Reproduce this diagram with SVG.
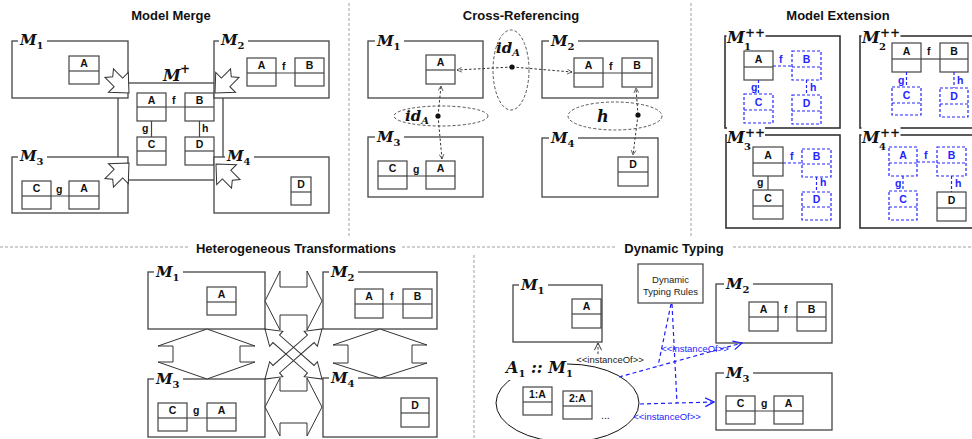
<svg xmlns="http://www.w3.org/2000/svg" width="972" height="439" viewBox="0 0 972 439">
<defs>
<style>
.ti{font-family:"Liberation Sans",Arial,sans-serif;font-weight:bold;font-size:13px;text-anchor:middle;fill:#111}
.sep{stroke:#a0a0a0;stroke-width:1;stroke-dasharray:3 2;fill:none}
.fr{fill:#fff;stroke:#444;stroke-width:1.3}
.fx{fill:none;stroke:#333;stroke-width:1.6}
.ml{font-family:"DejaVu Serif",serif;font-weight:bold;font-style:italic;font-size:15px;fill:#111}
.sb{font-size:10px;font-style:normal}
.sbi{font-size:10px}
.bg{fill:#fff}
.c rect{fill:#fff;stroke:#444;stroke-width:1.2}
.c line{stroke:#444;stroke-width:1.2}
.c text{font-family:"Liberation Sans",Arial,sans-serif;font-weight:bold;font-size:10.5px;text-anchor:middle;fill:#111}
.b rect{stroke:#2424ff;stroke-dasharray:3 2}
.b line{stroke:#2424ff;stroke-dasharray:3 2}
.b text{fill:#2424ff}
.lb{font-family:"Liberation Sans",Arial,sans-serif;font-weight:bold;font-size:10.5px;fill:#111}
.lbb{fill:#2424ff}
.ln{stroke:#444;stroke-width:1.2;fill:none}
.lnb{stroke:#2424ff;stroke-width:1.2;stroke-dasharray:3 2;fill:none}
.blk{fill:#fff;stroke:#333;stroke-width:1}
.blkn{fill:none;stroke:#333;stroke-width:1}
.dot{stroke:#333;stroke-width:1;stroke-dasharray:2.5 2;fill:none}
.ell{stroke:#555;stroke-width:1;stroke-dasharray:3 2;fill:none}
.dt{stroke:#1e1eff;stroke-width:1.2;stroke-dasharray:4 3;fill:none}
.sm{font-family:"Liberation Sans",Arial,sans-serif;font-size:9.5px;fill:#222}
.smb{fill:#2424ff}
.pp{font-family:"DejaVu Serif",serif;font-weight:bold;font-size:12px;fill:#111}
</style>
<marker id="ak" viewBox="0 0 10 10" refX="9" refY="5" markerWidth="6" markerHeight="6" orient="auto" markerUnits="userSpaceOnUse"><path d="M1,1 L9,5 L1,9" fill="none" stroke="#333" stroke-width="1.2"/></marker>
<marker id="ab" viewBox="0 0 10 10" refX="9" refY="5" markerWidth="11" markerHeight="11" orient="auto" markerUnits="userSpaceOnUse"><path d="M1,1 L9,5 L1,9" fill="none" stroke="#1e1eff" stroke-width="1.1"/></marker>
<marker id="ak2" viewBox="0 0 10 10" refX="9" refY="5" markerWidth="9" markerHeight="9" orient="auto" markerUnits="userSpaceOnUse"><path d="M1,1 L9,5 L1,9" fill="none" stroke="#333" stroke-width="1.1"/></marker>
<path id="notch" d="M0,0 L-15,-14 L-15,-6 L-28,-6 L-23,0 L-28,6 L-15,6 L-15,14 Z"/>
</defs>
<rect width="972" height="439" fill="#fff"/>

<g id="separators">
<path class="sep" d="M0,247 H188 M402,247 H617 M733,247 H972 M474,255 V439 M349,3 V238 M691,3 V238"/>
</g>

<g id="titles">
<text class="ti" x="171" y="20">Model Merge</text>
<text class="ti" x="521" y="20">Cross-Referencing</text>
<text class="ti" x="838" y="20">Model Extension</text>
<text class="ti" x="296" y="253">Heterogeneous Transformations</text>
<text class="ti" x="674" y="253">Dynamic Typing</text>
</g>

<!-- ================= MODEL MERGE ================= -->
<g id="mm-mplus">
<rect class="fr" x="118" y="83" width="105" height="97"/>
<text class="ml" x="163" y="81" style="font-size:16px">M</text><text class="pp" x="180" y="73">+</text>
<g class="c"><rect x="137" y="93" width="29" height="28"/><line x1="137" y1="107" x2="166" y2="107"/><text x="151.5" y="104">A</text></g>
<g class="c"><rect x="185" y="93" width="29" height="28"/><line x1="185" y1="107" x2="214" y2="107"/><text x="199.5" y="104">B</text></g>
<g class="c"><rect x="137" y="137" width="29" height="28"/><line x1="137" y1="151" x2="166" y2="151"/><text x="151.5" y="148">C</text></g>
<g class="c"><rect x="185" y="137" width="29" height="28"/><line x1="185" y1="151" x2="214" y2="151"/><text x="199.5" y="148">D</text></g>
</g>
<g id="mm-m1">
<rect class="fr" x="12" y="41" width="116" height="57"/>
<rect class="bg" x="18" y="30" width="29" height="20"/>
<text class="ml" x="20" y="45">M<tspan class="sb" dy="4">1</tspan></text>
<g class="c"><rect x="69" y="56" width="30" height="28"/><line x1="69" y1="71" x2="99" y2="71"/><text x="84" y="67">A</text></g>
</g>
<g id="mm-m2">
<rect class="fr" x="214" y="41" width="115" height="57"/>
<rect class="bg" x="219" y="30" width="29" height="20"/>
<text class="ml" x="221" y="45">M<tspan class="sb" dy="4">2</tspan></text>
<g class="c"><rect x="247" y="58" width="29" height="28"/><line x1="247" y1="73" x2="276" y2="73"/><text x="261.5" y="69">A</text></g>
<g class="c"><rect x="295" y="58" width="29" height="28"/><line x1="295" y1="73" x2="324" y2="73"/><text x="309.5" y="69">B</text></g>
</g>
<g id="mm-m3">
<rect class="fr" x="12" y="157" width="116" height="56"/>
<rect class="bg" x="18" y="146" width="29" height="20"/>
<text class="ml" x="20" y="161">M<tspan class="sb" dy="4">3</tspan></text>
<g class="c"><rect x="22" y="181" width="29" height="28"/><line x1="22" y1="196" x2="51" y2="196"/><text x="36.5" y="192">C</text></g>
<g class="c"><rect x="69" y="181" width="30" height="28"/><line x1="69" y1="196" x2="99" y2="196"/><text x="84" y="192">A</text></g>
</g>
<g id="mm-m4">
<rect class="fr" x="214" y="157" width="115" height="56"/>
<rect class="bg" x="225" y="146" width="29" height="20"/>
<text class="ml" x="227" y="161">M<tspan class="sb" dy="4">4</tspan></text>
<g class="c"><rect x="291" y="177" width="20" height="28"/><line x1="291" y1="192" x2="311" y2="192"/><text x="301" y="188">D</text></g>
</g>

<!-- ================= CROSS-REFERENCING ================= -->
<g id="cr-m1">
<rect class="fr" x="368" y="41" width="115" height="57"/>
<rect class="bg" x="375" y="30" width="29" height="20"/>
<text class="ml" x="377" y="46">M<tspan class="sb" dy="4">1</tspan></text>
<g class="c"><rect x="426" y="55" width="29" height="29"/><line x1="426" y1="70" x2="455" y2="70"/><text x="440.5" y="66">A</text></g>
</g>
<g id="cr-m2">
<rect class="fr" x="542" y="41" width="116" height="57"/>
<rect class="bg" x="549" y="30" width="29" height="20"/>
<text class="ml" x="551" y="46">M<tspan class="sb" dy="4">2</tspan></text>
<g class="c"><rect x="574" y="58" width="29" height="29"/><line x1="574" y1="73" x2="603" y2="73"/><text x="588.5" y="69">A</text></g>
<g class="c"><rect x="622" y="58" width="30" height="29"/><line x1="622" y1="73" x2="652" y2="73"/><text x="637" y="69">B</text></g>
</g>
<g id="cr-m3">
<rect class="fr" x="368" y="137" width="115" height="60"/>
<rect class="bg" x="375" y="126" width="29" height="20"/>
<text class="ml" x="377" y="142">M<tspan class="sb" dy="4">3</tspan></text>
<g class="c"><rect x="378" y="161" width="29" height="28"/><line x1="378" y1="176" x2="407" y2="176"/><text x="392.5" y="172">C</text></g>
<g class="c"><rect x="426" y="161" width="29" height="28"/><line x1="426" y1="176" x2="455" y2="176"/><text x="440.5" y="172">A</text></g>
</g>
<g id="cr-m4">
<rect class="fr" x="542" y="138" width="116" height="59"/>
<rect class="bg" x="549" y="127" width="29" height="20"/>
<text class="ml" x="551" y="143">M<tspan class="sb" dy="4">4</tspan></text>
<g class="c"><rect x="618" y="157" width="30" height="29"/><line x1="618" y1="172" x2="648" y2="172"/><text x="633" y="168">D</text></g>
</g>

<!-- ================= MODEL EXTENSION ================= -->
<g id="me-m1">
<rect class="fx" x="725" y="36" width="115" height="92"/>
<rect class="bg" x="726.5" y="25" width="39" height="26"/>
<text class="ml" x="727" y="43" style="font-size:16px">M</text><text class="ml sb" x="744" y="50">1</text><text class="pp" x="745" y="37">++</text>
<g class="c"><rect x="744" y="51" width="29" height="29"/><line x1="744" y1="67" x2="773" y2="67"/><text x="758.5" y="63">A</text></g>
<g class="c b"><rect x="792" y="51" width="29" height="29"/><line x1="792" y1="67" x2="821" y2="67"/><text x="806.5" y="63">B</text></g>
<g class="c b"><rect x="744" y="94" width="29" height="29"/><line x1="744" y1="110" x2="773" y2="110"/><text x="758.5" y="106">C</text></g>
<g class="c b"><rect x="792" y="95" width="29" height="29"/><line x1="792" y1="111" x2="821" y2="111"/><text x="806.5" y="107">D</text></g>
</g>
<g id="me-m2">
<rect class="fx" x="860" y="36" width="125" height="92"/>
<rect class="bg" x="861.5" y="25" width="39" height="26"/>
<text class="ml" x="862" y="43" style="font-size:16px">M</text><text class="ml sb" x="879" y="50">2</text><text class="pp" x="880" y="37">++</text>
<g class="c"><rect x="892" y="43" width="29" height="29"/><line x1="892" y1="59" x2="921" y2="59"/><text x="906.5" y="55">A</text></g>
<g class="c"><rect x="940" y="43" width="28" height="29"/><line x1="940" y1="59" x2="968" y2="59"/><text x="954" y="55">B</text></g>
<g class="c b"><rect x="892" y="87" width="29" height="28"/><line x1="892" y1="103" x2="921" y2="103"/><text x="906.5" y="99">C</text></g>
<g class="c b"><rect x="940" y="88" width="28" height="29"/><line x1="940" y1="104" x2="968" y2="104"/><text x="954" y="100">D</text></g>
</g>
<g id="me-m3">
<rect class="fx" x="726" y="135" width="114" height="93"/>
<rect class="bg" x="727" y="124" width="38" height="26"/>
<text class="ml" x="727" y="143" style="font-size:16px">M</text><text class="ml sb" x="744" y="150">3</text><text class="pp" x="745" y="137">++</text>
<g class="c"><rect x="753" y="147" width="30" height="29"/><line x1="753" y1="163" x2="783" y2="163"/><text x="768" y="159">A</text></g>
<g class="c b"><rect x="802" y="149" width="29" height="28"/><line x1="802" y1="164" x2="831" y2="164"/><text x="816.5" y="160">B</text></g>
<g class="c"><rect x="753" y="190" width="30" height="29"/><line x1="753" y1="206" x2="783" y2="206"/><text x="768" y="202">C</text></g>
<g class="c b"><rect x="802" y="192" width="29" height="28"/><line x1="802" y1="207" x2="831" y2="207"/><text x="816.5" y="203">D</text></g>
</g>
<g id="me-m4">
<rect class="fx" x="860" y="135" width="125" height="93"/>
<rect class="bg" x="861.5" y="124" width="39" height="26"/>
<text class="ml" x="862" y="143" style="font-size:16px">M</text><text class="ml sb" x="879" y="150">4</text><text class="pp" x="880" y="137">++</text>
<g class="c b"><rect x="889" y="147" width="28" height="29"/><line x1="889" y1="163" x2="917" y2="163"/><text x="903" y="159">A</text></g>
<g class="c b"><rect x="937" y="147" width="29" height="29"/><line x1="937" y1="163" x2="966" y2="163"/><text x="951.5" y="159">B</text></g>
<g class="c b"><rect x="889" y="191" width="28" height="29"/><line x1="889" y1="207" x2="917" y2="207"/><text x="903" y="203">C</text></g>
<g class="c"><rect x="937" y="192" width="29" height="29"/><line x1="937" y1="208" x2="966" y2="208"/><text x="951.5" y="204">D</text></g>
</g>

<!-- ================= HETEROGENEOUS ================= -->
<g id="ht-m1">
<rect class="fr" x="148" y="272" width="117" height="57"/>
<rect class="bg" x="154" y="261" width="29" height="20"/>
<text class="ml" x="156" y="277">M<tspan class="sb" dy="4">1</tspan></text>
<g class="c"><rect x="207" y="287" width="29" height="28"/><line x1="207" y1="302" x2="236" y2="302"/><text x="221.5" y="298">A</text></g>
</g>
<g id="ht-m2">
<rect class="fr" x="323" y="272" width="114" height="57"/>
<rect class="bg" x="329" y="261" width="29" height="20"/>
<text class="ml" x="331" y="277">M<tspan class="sb" dy="4">2</tspan></text>
<g class="c"><rect x="355" y="289" width="28" height="29"/><line x1="355" y1="304" x2="383" y2="304"/><text x="369" y="300">A</text></g>
<g class="c"><rect x="403" y="289" width="29" height="29"/><line x1="403" y1="304" x2="432" y2="304"/><text x="417.5" y="300">B</text></g>
</g>
<g id="ht-m3">
<rect class="fr" x="148" y="379" width="117" height="58"/>
<rect class="bg" x="154" y="368" width="29" height="20"/>
<text class="ml" x="156" y="384">M<tspan class="sb" dy="4">3</tspan></text>
<g class="c"><rect x="158" y="403" width="29" height="28"/><line x1="158" y1="418" x2="187" y2="418"/><text x="172.5" y="414">C</text></g>
<g class="c"><rect x="207" y="403" width="29" height="28"/><line x1="207" y1="418" x2="236" y2="418"/><text x="221.5" y="414">A</text></g>
</g>
<g id="ht-m4">
<rect class="fr" x="323" y="378" width="114" height="59"/>
<rect class="bg" x="329" y="367" width="29" height="20"/>
<text class="ml" x="331" y="383">M<tspan class="sb" dy="4">4</tspan></text>
<g class="c"><rect x="401" y="398" width="28" height="29"/><line x1="401" y1="413" x2="429" y2="413"/><text x="415" y="409">D</text></g>
</g>

<!-- ================= DYNAMIC TYPING ================= -->
<g id="dt-m1">
<rect class="fr" x="513" y="285" width="89" height="57"/>
<rect class="bg" x="519" y="274" width="29" height="20"/>
<text class="ml" x="521" y="290">M<tspan class="sb" dy="4">1</tspan></text>
<g class="c"><rect x="572" y="299" width="29" height="29"/><line x1="572" y1="314" x2="601" y2="314"/><text x="586.5" y="310">A</text></g>
</g>
<g id="dt-rules">
<rect x="638" y="264" width="65" height="39" fill="#fff" stroke="#444" stroke-width="1.2"/>
<text class="sm" x="670.5" y="283" text-anchor="middle">Dynamic</text>
<text class="sm" x="670.5" y="295" text-anchor="middle">Typing Rules</text>
</g>
<g id="dt-m2">
<rect class="fr" x="716" y="284" width="116" height="59"/>
<rect class="bg" x="724" y="273" width="29" height="20"/>
<text class="ml" x="726" y="289">M<tspan class="sb" dy="4">2</tspan></text>
<g class="c"><rect x="749" y="302" width="29" height="29"/><line x1="749" y1="317" x2="778" y2="317"/><text x="763.5" y="313">A</text></g>
<g class="c"><rect x="797" y="302" width="29" height="29"/><line x1="797" y1="317" x2="826" y2="317"/><text x="811.5" y="313">B</text></g>
</g>
<g id="dt-m3">
<rect class="fr" x="716" y="373" width="116" height="57"/>
<rect class="bg" x="724" y="362" width="29" height="20"/>
<text class="ml" x="726" y="378">M<tspan class="sb" dy="4">3</tspan></text>
<g class="c"><rect x="726" y="396" width="29" height="28"/><line x1="726" y1="411" x2="755" y2="411"/><text x="740.5" y="407">C</text></g>
<g class="c"><rect x="774" y="396" width="29" height="28"/><line x1="774" y1="411" x2="803" y2="411"/><text x="788.5" y="407">A</text></g>
</g>
<g id="dt-a1">
<ellipse cx="567.5" cy="403" rx="71.5" ry="39" fill="none" stroke="#111" stroke-width="1"/>
<rect class="bg" x="502" y="356" width="65" height="24"/>
<text class="ml" x="506" y="373" style="font-size:16px">A<tspan class="sb" dy="4">1</tspan><tspan dy="-4"> :: M</tspan><tspan class="sb" dy="4">1</tspan></text>
<g class="c"><rect x="523" y="387" width="29" height="28"/><line x1="523" y1="402" x2="552" y2="402"/><text x="537.5" y="398">1:A</text></g>
<g class="c"><rect x="563" y="391" width="29" height="28"/><line x1="563" y1="406" x2="592" y2="406"/><text x="577.5" y="402">2:A</text></g>
<text class="lb" x="601" y="419" style="font-weight:normal">...</text>
</g>

<!-- ================= CONNECTORS ================= -->
<g id="connectors">
<path class="ln" d="M166,107 H185 M151.5,121 V137 M199.5,121 V137 M276,73 H295 M51,196 H69"/>
<text class="lb" x="172" y="104">f</text><text class="lb" x="142" y="132">g</text><text class="lb" x="202" y="132">h</text>
<text class="lb" x="282" y="70">f</text><text class="lb" x="56" y="193">g</text>
<use href="#notch" class="blk" transform="translate(129,93) rotate(45)"/>
<use href="#notch" class="blk" transform="translate(215,93) rotate(135)"/>
<use href="#notch" class="blk" transform="translate(129,163) rotate(-45)"/>
<use href="#notch" class="blk" transform="translate(216,164) rotate(-135)"/>

<path class="ln" d="M603,73 H622 M407,176 H426"/>
<text class="lb" x="609" y="70">f</text><text class="lb" x="413" y="173">g</text>
<ellipse class="ell" cx="441" cy="116" rx="47" ry="10"/>
<ellipse class="ell" cx="511" cy="70" rx="18" ry="40"/>
<ellipse class="ell" cx="615" cy="116" rx="47" ry="14"/>
<path class="dot" d="M438,116 L441,86" marker-end="url(#ak)"/>
<path class="dot" d="M438,116 L442,159" marker-end="url(#ak)"/>
<path class="dot" d="M512,67 L457,70" marker-end="url(#ak)"/>
<path class="dot" d="M512,67 L572,72" marker-end="url(#ak)"/>
<path class="dot" d="M638,115 L636,88" marker-end="url(#ak)"/>
<path class="dot" d="M638,115 L633,155" marker-end="url(#ak)"/>
<circle cx="438" cy="116" r="2.6" fill="#111"/>
<circle cx="512" cy="67" r="2.6" fill="#111"/>
<circle cx="638" cy="115" r="2.6" fill="#111"/>
<text class="ml" x="405" y="121">id<tspan class="sbi" dy="3">A</tspan></text>
<text class="ml" x="496" y="53">id<tspan class="sbi" dy="3">A</tspan></text>
<text class="ml" x="597" y="122" style="font-size:16px">h</text>

<path class="lnb" d="M773,66 H792 M758.5,80 V94 M806.5,80 V95"/>
<text class="lb lbb" x="779" y="63">f</text><text class="lb lbb" x="751" y="91">g</text><text class="lb lbb" x="810" y="91">h</text>
<path class="lnb" d="M783,163 H802 M816.5,177 V192"/>
<path class="ln" d="M768,176 V190"/>
<text class="lb lbb" x="790" y="160">f</text><text class="lb" x="757" y="186">g</text><text class="lb lbb" x="820" y="186">h</text>
<path class="ln" d="M921,59 H940"/>
<path class="lnb" d="M906.5,72 V87 M954,72 V88"/>
<text class="lb" x="927" y="55">f</text><text class="lb lbb" x="898" y="84">g</text><text class="lb lbb" x="957" y="84">h</text>
<path class="lnb" d="M917,162 H937 M903,176 V191 M951.5,176 V192"/>
<text class="lb lbb" x="924" y="159">f</text><text class="lb lbb" x="895" y="187">g</text><text class="lb lbb" x="955" y="187">h</text>

<path class="ln" d="M383,304 H403 M187,418 H207"/>
<text class="lb" x="390" y="300">f</text><text class="lb" x="193" y="414">g</text>
<path class="blk" d="M207,329 L158,346 L173,346 L173,362 L158,362 L207,379 L255,362 L240,362 L240,346 L255,346 Z"/>
<path class="blk" d="M380,329 L333,345 L348,345 L348,363 L333,363 L380,378 L427,363 L412,363 L412,345 L427,345 Z"/>
<path class="blk" d="M265,301 L280,271 L280,287 L307,287 L307,271 L322,301 L307,330 L307,315 L280,315 L280,330 Z"/>
<path class="blk" d="M265,407 L280,378 L280,391 L307,391 L307,378 L322,407 L307,436 L307,423 L280,423 L280,436 Z"/>
<path class="blkn" transform="translate(293.5,354) rotate(41.3)" d="M-38,0 L-23,-10 L-23,-5 L23,-5 L23,-10 L38,0 L23,10 L23,5 L-23,5 L-23,10 Z"/>
<path class="blkn" transform="translate(293.5,354) rotate(-41.3)" d="M-38,0 L-23,-10 L-23,-5 L23,-5 L23,-10 L38,0 L23,10 L23,5 L-23,5 L-23,10 Z"/>

<path class="ln" d="M778,317 H797 M755,411 H774"/>
<text class="lb" x="784" y="313">f</text><text class="lb" x="761" y="407">g</text>
<path class="dot" d="M598,354 L598,343" marker-end="url(#ak2)"/>
<text class="sm" x="610" y="363" text-anchor="middle">&lt;&lt;instanceOf&gt;&gt;</text>
<path class="dt" d="M619,377 L742,343" marker-end="url(#ab)"/>
<path class="dt" d="M640,404 L714,402" marker-end="url(#ab)"/>
<path class="dt" d="M671,304 L658,366 M672,304 L677,403"/>
<text class="sm smb" x="695" y="352" text-anchor="middle">&lt;&lt;instanceOf&gt;&gt;</text>
<text class="sm smb" x="667" y="420" text-anchor="middle">&lt;&lt;instanceOf&gt;&gt;</text>
</g>
</svg>
